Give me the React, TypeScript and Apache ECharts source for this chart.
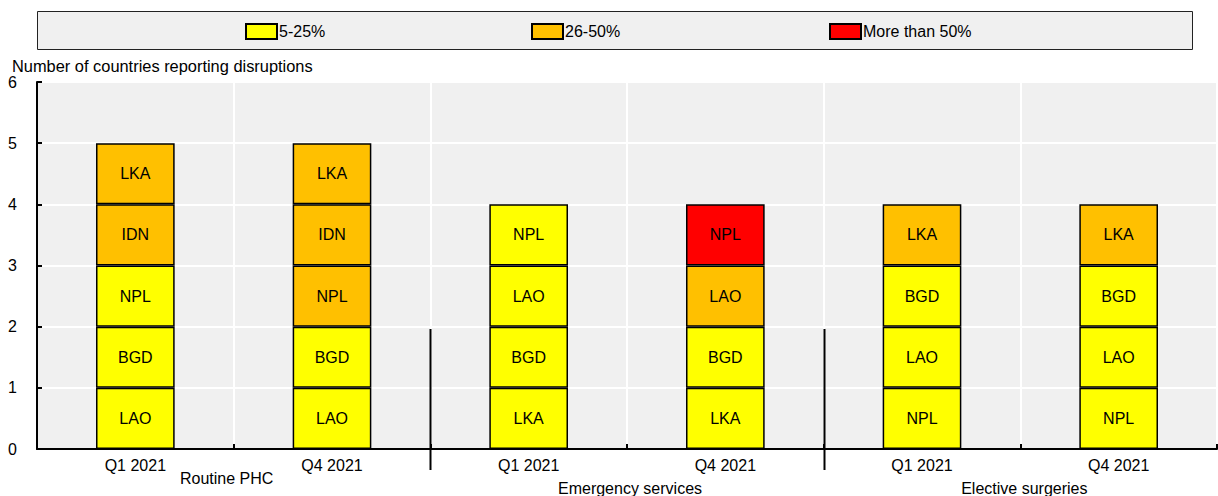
import React, { useEffect, useRef } from "react";
import * as echarts from "echarts";

const categories = ["Q1 2021", "Q4 2021", "Q1 2021", "Q4 2021", "Q1 2021", "Q4 2021"];
const groups = ["Routine PHC", "Emergency services", "Elective surgeries"];
const severityNames = ["5-25%", "26-50%", "More than 50%"];
const severityColors = ["#ffff00", "#ffc000", "#ff0000"];
const yTicks = [0, 1, 2, 3, 4, 5, 6];

// countries stacked bottom -> top in each bar
const barCountries = [
  ["LAO", "BGD", "NPL", "IDN", "LKA"],
  ["LAO", "BGD", "NPL", "IDN", "LKA"],
  ["LKA", "BGD", "LAO", "NPL"],
  ["LKA", "BGD", "LAO", "NPL"],
  ["NPL", "LAO", "BGD", "LKA"],
  ["NPL", "LAO", "BGD", "LKA"],
];
// severity index (0: 5-25%, 1: 26-50%, 2: >50%) of each stacked country
const barSeverity = [
  [0, 0, 0, 1, 1],
  [0, 0, 1, 1, 1],
  [0, 0, 0, 0],
  [0, 0, 1, 2],
  [0, 0, 0, 1],
  [0, 0, 0, 1],
];

const FONT = "'Liberation Sans', Arial, sans-serif";

export default function App() {
  const ref = useRef<HTMLDivElement>(null);
  useEffect(() => {
    if (!ref.current) return;
    const chart = echarts.init(ref.current, null, { renderer: "svg" });
    const W = 1218;
    const gridLeft = 37;
    const gridRight = 1;
    const gridTop = 82;
    const gridBottom = 47;
    const plotW = W - gridLeft - gridRight;
    const maxLevels = Math.max(...barCountries.map((b) => b.length));

    const levelSeries = Array.from({ length: maxLevels }, (_, k) => ({
      type: "bar",
      name: "level" + k,
      stack: "total",
      barWidth: "40%",
      data: barCountries.map((b, i) =>
        k < b.length
          ? {
              value: 1,
              country: b[k],
              itemStyle: { color: severityColors[barSeverity[i][k]] },
            }
          : "-"
      ),
      itemStyle: { borderColor: "#000", borderWidth: 1.5 },
      label: {
        show: true,
        position: "inside",
        color: "#000",
        fontSize: 16,
        fontFamily: FONT,
        formatter: (p: any) => (p.data && p.data.country) || "",
      },
      emphasis: { disabled: true },
    }));

    const legendSeries = severityNames.map((n, i) => ({
      type: "bar",
      name: n,
      stack: "total",
      data: [],
      itemStyle: { color: severityColors[i], borderColor: "#000", borderWidth: 1.5 },
    }));

    const legendLefts = [245, 531, 829];

    const graphics: any[] = [
      {
        type: "rect",
        shape: { x: 37.5, y: 11.5, width: 1155, height: 38 },
        style: { fill: "#f0f0f0", stroke: "#222", lineWidth: 1 },
        z: -10,
      },
      {
        type: "text",
        x: 12,
        y: 66,
        style: {
          text: "Number of countries reporting disruptions",
          fontSize: 16.4,
          fontFamily: FONT,
          fill: "#000",
          textVerticalAlign: "middle",
        },
      },
    ];
    const groupY = [478, 488, 488];
    const groupDx = [-7, 3, 4];
    groups.forEach((g, i) => {
      graphics.push({
        type: "text",
        x: gridLeft + (plotW * (2 * i + 1)) / 6 + groupDx[i],
        y: groupY[i],
        style: {
          text: g,
          fontSize: 16,
          fontFamily: FONT,
          fill: "#000",
          textAlign: "center",
          textVerticalAlign: "middle",
        },
      });
    });
    [1, 2].forEach((i) => {
      const x = Math.round(gridLeft + (plotW * 2 * i) / 6) + 0.5;
      graphics.push({
        type: "line",
        shape: { x1: x, y1: 329, x2: x, y2: 470 },
        style: { stroke: "#000", lineWidth: 2 },
        z: 100,
      });
    });

    chart.setOption({
      animation: false,
      textStyle: { fontFamily: FONT },
      legend: severityNames.map((n, i) => ({
        data: [n],
        left: legendLefts[i],
        top: 23,
        itemWidth: 31,
        itemHeight: 15,
        icon: "rect",
        padding: 0,
        textStyle: { fontSize: 16, color: "#000", fontFamily: FONT, padding: [0, 0, 0, -3] },
        selectedMode: false,
      })),
      grid: {
        left: gridLeft,
        right: gridRight,
        top: gridTop,
        bottom: gridBottom,
        show: true,
        backgroundColor: "#f0f0f0",
        borderWidth: 0,
      },
      xAxis: {
        type: "category",
        data: categories,
        axisLine: { show: true, lineStyle: { color: "#000", width: 2 } },
        axisTick: { show: true, inside: true, length: 5, lineStyle: { color: "#000", width: 2 } },
        splitLine: { show: true, interval: 0, lineStyle: { color: "#fff", width: 2 } },
        axisLabel: { color: "#000", fontSize: 16, margin: 8, fontFamily: FONT },
      },
      yAxis: {
        type: "value",
        min: yTicks[0],
        max: yTicks[yTicks.length - 1],
        interval: 1,
        axisLine: { show: true, lineStyle: { color: "#000", width: 2 } },
        axisTick: { show: true, inside: true, length: 5, lineStyle: { color: "#000", width: 2 } },
        splitLine: { show: true, lineStyle: { color: "#fff", width: 2 } },
        axisLabel: { color: "#000", fontSize: 16, margin: 20, fontFamily: FONT },
      },
      graphic: graphics,
      series: [...levelSeries, ...legendSeries],
    });
    return () => chart.dispose();
  }, []);
  return (
    <div
      ref={ref}
      style={{ position: "fixed", left: 0, top: 0, width: 1218, height: 496, background: "#fff" }}
    />
  );
}
